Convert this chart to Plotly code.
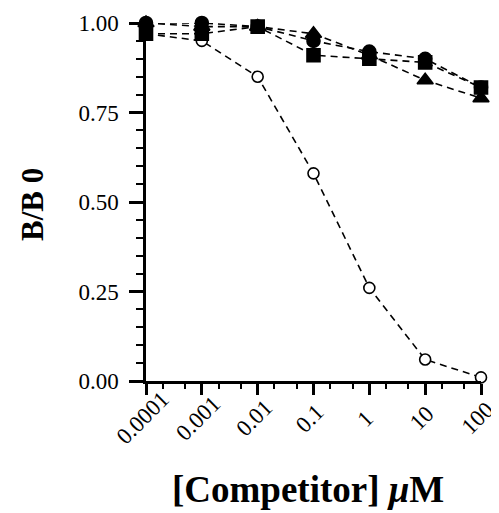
import math
import plotly.graph_objects as go

conc = [0.0001, 0.001, 0.01, 0.1, 1, 10, 100]
tick_labels = ["0.0001", "0.001", "0.01", "0.1", "1", "10", "100"]

open_circle = [0.97, 0.95, 0.85, 0.58, 0.26, 0.06, 0.01]
filled_circle = [1.00, 1.00, 0.99, 0.95, 0.92, 0.90, 0.82]
triangle = [1.00, 0.99, 0.99, 0.97, 0.91, 0.84, 0.79]
square = [0.97, 0.97, 0.99, 0.91, 0.90, 0.89, 0.82]

fig = go.Figure()

def add(y, symbol, size, fill):
    fig.add_trace(go.Scatter(
        x=conc, y=y, mode="lines+markers",
        line=dict(color="black", width=1.6, dash="7px,5px"),
        marker=dict(symbol=symbol, size=size, color=fill,
                    line=dict(color="black", width=1.6)),
        cliponaxis=False, showlegend=False))

add(open_circle, "circle", 11, "white")
add(square, "square", 13, "black")
add(triangle, "triangle-up", 14, "black")
add(filled_circle, "circle", 13, "black")

font = "Liberation Serif, Times New Roman, serif"

# rotated x tick labels centred under their ticks (placed on the x axis scale)
tick_annotations = [
    dict(text=lab, xref="x", yref="paper", x=math.log10(v), y=0,
         xanchor="center", yanchor="middle", xshift=-4, yshift=-37, textangle=-45,
         showarrow=False, font=dict(size=23, family=font))
    for v, lab in zip(conc, tick_labels)
]

fig.update_layout(
    width=491, height=505,
    margin=dict(l=138, r=18, t=15, b=132),
    paper_bgcolor="white", plot_bgcolor="white",
    font=dict(family=font, color="black"),
    xaxis=dict(
        type="log", range=[-4, 2], automargin=False,
        tickvals=conc, showticklabels=False,
        ticks="outside", ticklen=11, tickwidth=2.5, tickcolor="black",
        minor=dict(ticks="outside", ticklen=5, tickwidth=1.5, tickcolor="black", showgrid=False),
        showline=True, linecolor="black", linewidth=2.5,
        showgrid=False, zeroline=False,
    ),
    yaxis=dict(
        range=[0, 1], automargin=False,
        tickvals=[0, 0.25, 0.5, 0.75, 1.0],
        ticktext=["0.00", "0.25", "0.50", "0.75", "1.00"],
        ticks="outside", ticklen=14, tickwidth=2.5, tickcolor="black",
        minor=dict(dtick=0.05, ticks="outside", ticklen=7, tickwidth=1.5, tickcolor="black", showgrid=False),
        showline=True, linecolor="black", linewidth=2.5,
        showgrid=False, zeroline=False,
        ticklabelstandoff=6,
        tickfont=dict(size=23, family=font),
    ),
    annotations=tick_annotations + [
        dict(text="<b>[Competitor] <i>μ</i>M</b>", xref="paper", yref="paper",
             x=0.5, y=0, xanchor="center", yanchor="middle", xshift=-6, yshift=-108,
             showarrow=False, font=dict(size=37, family=font)),
        dict(text="<b>B/B 0</b>", xref="paper", yref="paper",
             x=0, y=0.5, xanchor="center", yanchor="middle", xshift=-114, yshift=-3,
             textangle=-90, showarrow=False, font=dict(size=31, family=font)),
    ],
)

fig.write_html("out.html")
